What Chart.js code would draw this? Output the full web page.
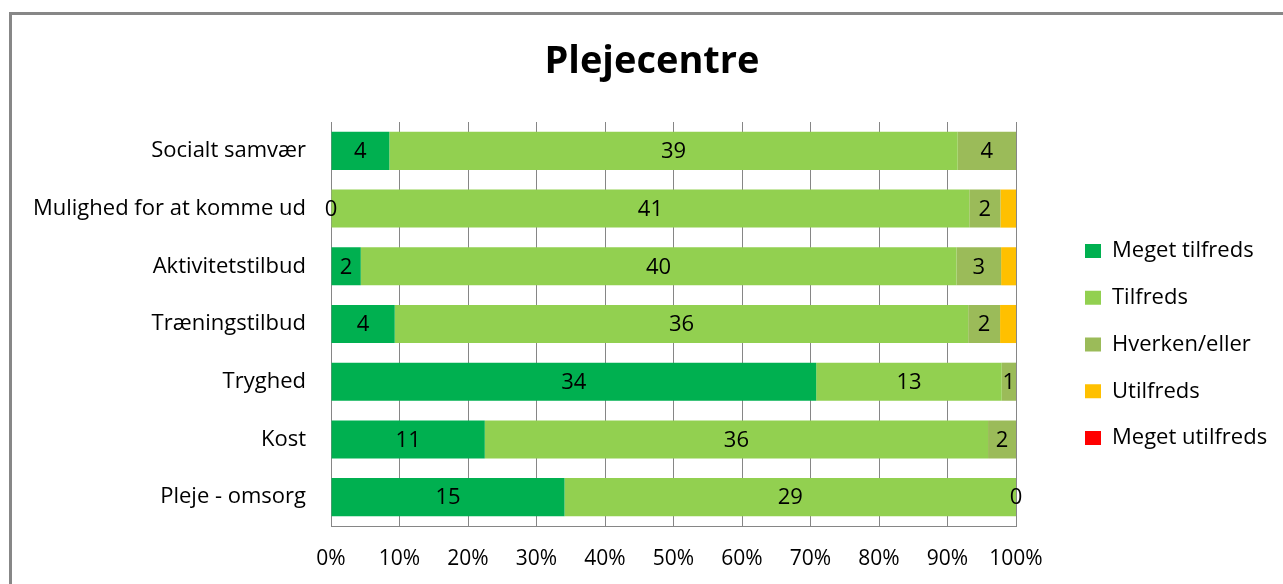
<!DOCTYPE html>
<html lang="da">
<head>
<meta charset="utf-8">
<title>Plejecentre</title>
<script src="https://cdn.jsdelivr.net/npm/chart.js@4.4.1/dist/chart.umd.min.js"></script>
<style>
    html, body { margin: 0; padding: 0; background: #fff; overflow: hidden; }
    #frame { position: absolute; left: 9px; top: 12px; width: 1400px; height: 700px;
             border: 3px solid #878787; box-sizing: border-box; }
    #wrap { position: absolute; left: 0; top: 0; width: 1283px; height: 584px; }
</style>
</head>
<body>
<div id="frame"></div>
<div id="wrap"><canvas id="chart" width="1283" height="584"></canvas></div>
<script>
// Answers per topic (counts), top to bottom as shown
const categories = ['Socialt samvær', 'Mulighed for at komme ud', 'Aktivitetstilbud',
    'Træningstilbud', 'Tryghed', 'Kost', 'Pleje - omsorg'];
const seriesNames = ['Meget tilfreds', 'Tilfreds', 'Hverken/eller', 'Utilfreds', 'Meget utilfreds'];
const megetTilfreds = [4, 0, 2, 4, 34, 11, 15];
const tilfreds = [39, 41, 40, 36, 13, 36, 29];
const hverkenEller = [4, 2, 3, 2, 1, 2, 0];
const utilfreds = [0, 1, 1, 1, 0, 0, 0];
const megetUtilfreds = [0, 0, 0, 0, 0, 0, 0];
const tickLabels = ['0%', '10%', '20%', '30%', '40%', '50%', '60%', '70%', '80%', '90%', '100%'];

const seriesColors = ['#00B050', '#92D050', '#9BBB59', '#FFC000', '#FF0000'];
const allSeries = [megetTilfreds, tilfreds, hverkenEller, utilfreds, megetUtilfreds];
const labelledSeries = [true, true, true, false, false];

const FONT = 'Open Sans';
const totals = categories.map((c, i) => allSeries.reduce((s, arr) => s + arr[i], 0));

// value labels centred in each segment (counts, not percentages)
const barValueLabels = {
    id: 'barValueLabels',
    afterDatasetsDraw(chart) {
        const ctx = chart.ctx;
        ctx.save();
        ctx.font = `22px "${FONT}"`;
        ctx.fillStyle = '#000';
        ctx.textAlign = 'center';
        ctx.textBaseline = 'middle';
        chart.data.datasets.forEach((ds, i) => {
            if (!ds.showValues) return;
            chart.getDatasetMeta(i).data.forEach((bar, j) => {
                ctx.fillText(String(ds.counts[j]), (bar.x + bar.base) / 2, bar.y + 1);
            });
        });
        ctx.restore();
    }
};

// title centred on the whole frame, legend block to the right of the plot
const boxPlacer = {
    id: 'boxPlacer',
    afterLayout(chart) {
        const t = chart.titleBlock;
        t.left = 20;
        t.right = 1284;

        const lg = chart.legend;
        const pad = lg.options.labels.padding;
        const w = lg.width, h = lg.height;
        lg.left = 1085 - pad;
        lg.top = 240 - pad;
        lg.right = lg.left + w;
        lg.bottom = lg.top + h;
    }
};

new Chart(document.getElementById('chart').getContext('2d'), {
    type: 'bar',
    data: {
        labels: categories,
        datasets: allSeries.map((arr, k) => ({
            label: seriesNames[k],
            data: arr.map((v, i) => v / totals[i] * 100),
            counts: arr,
            showValues: labelledSeries[k],
            backgroundColor: seriesColors[k],
            borderWidth: 0,
            barPercentage: 0.66,
            categoryPercentage: 1
        }))
    },
    options: {
        indexAxis: 'y',
        responsive: false,
        animation: false,
        layout: { padding: { left: 20, right: 267, top: 0, bottom: 0 } },
        plugins: {
            title: {
                display: true,
                text: 'Plejecentre',
                color: '#000',
                font: { family: FONT, size: 38, weight: 'bold' },
                padding: { top: 39, bottom: 37.4 }
            },
            legend: {
                position: 'chartArea',
                align: 'start',
                labels: {
                    color: '#000',
                    font: { family: FONT, size: 22 },
                    boxWidth: 16,
                    boxHeight: 14,
                    padding: 24.75
                }
            },
            tooltip: { enabled: false }
        },
        scales: {
            x: {
                stacked: true,
                min: 0,
                max: 100,
                ticks: {
                    stepSize: 10,
                    color: '#000',
                    padding: 20,
                    font: { family: FONT, size: 21 },
                    callback: (v, i) => tickLabels[i]
                },
                grid: { color: '#868686', drawTicks: false },
                border: { color: '#868686' },
                afterFit: s => { s.height = 58; }
            },
            y: {
                stacked: true,
                ticks: {
                    color: '#000',
                    padding: 25,
                    font: { family: FONT, size: 22 }
                },
                grid: { display: false, drawTicks: false },
                border: { color: '#868686' },
                afterFit: s => { s.width = 311; }
            }
        }
    },
    plugins: [barValueLabels, boxPlacer]
});
</script>
</body>
</html>
